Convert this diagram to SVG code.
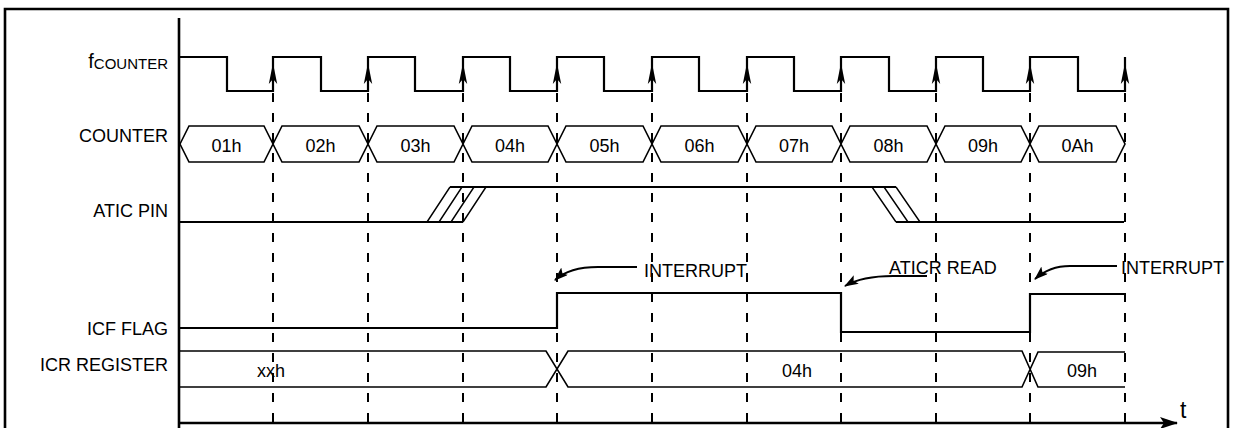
<svg xmlns="http://www.w3.org/2000/svg" xmlns:xlink="http://www.w3.org/1999/xlink" width="1235" height="428" viewBox="0 0 1235 428">
<style>
.t{font-family:"Liberation Sans",Arial,Helvetica,sans-serif;font-size:18px;fill:#000}
.r{text-anchor:end}
.m{text-anchor:middle}
.w{fill:none;stroke:#000;stroke-width:2.2;stroke-linejoin:miter}
.b{fill:none;stroke:#000;stroke-width:1.6}
.h{fill:none;stroke:#000;stroke-width:1.4}
.d{fill:none;stroke:#000;stroke-width:2;stroke-dasharray:9 11}
.f{fill:none;stroke:#000;stroke-width:2.6}
.a{fill:none;stroke:#000;stroke-width:1.8}
</style>
<defs>
<path id="up" d="M0,0 L4.2,21 L0,16 L-4.2,21 Z" fill="#000"/>
<marker id="ah" viewBox="0 0 14 10" refX="13" refY="5" markerWidth="14" markerHeight="10" markerUnits="userSpaceOnUse" orient="auto">
<path d="M0,0 L14,5 L0,10 L3,5 Z" fill="#000"/>
</marker>
<marker id="ta" viewBox="0 0 18 12" refX="17" refY="6" markerWidth="18" markerHeight="12" markerUnits="userSpaceOnUse" orient="auto">
<path d="M0,0 L18,6 L0,12 L4,6 Z" fill="#000"/>
</marker>
</defs>
<rect width="1235" height="428" fill="#fff"/>
<g id="frame">
<path class="f" d="M5,430 V9 H1228 V430"/>
<path class="f" d="M179,18 V430"/>
</g>
<g id="connectors">
<path class="d" d="M273,93 V428 M368,93 V428 M463,93 V428 M557,93 V428 M652,93 V428 M747,93 V428 M841,93 V428 M936,93 V428 M1030,93 V428 M1125,93 V428"/>
<path class="a" d="M637,267 H598 C580,267 566,270 555,280" marker-end="url(#ah)"/>
<path class="a" d="M927,276 H893 C872,276 857,279 845,286" marker-end="url(#ah)"/>
<path class="a" d="M1117,266 H1070 C1055,266 1045,270 1035,279" marker-end="url(#ah)"/>
<path class="f" d="M179,423 H1177" marker-end="url(#ta)"/>
</g>
<g id="fcounter">
<text class="t r" x="168" y="68"><tspan style="font-size:20px">f</tspan><tspan style="font-size:15px" dy="1">COUNTER</tspan></text>
<path class="w" d="M179,57 H227 V91 H273 V57 H321 V91 H368 V57 H415 V91 H463 V57 H510 V91 H557 V57 H604 V91 H652 V57 H699 V91 H747 V57 H794 V91 H841 V57 H889 V91 H936 V57 H983 V91 H1030 V57 H1078 V91 H1125 V57"/>
<use xlink:href="#up" x="273" y="63"/>
<use xlink:href="#up" x="368" y="63"/>
<use xlink:href="#up" x="463" y="63"/>
<use xlink:href="#up" x="557" y="63"/>
<use xlink:href="#up" x="652" y="63"/>
<use xlink:href="#up" x="747" y="63"/>
<use xlink:href="#up" x="841" y="63"/>
<use xlink:href="#up" x="936" y="63"/>
<use xlink:href="#up" x="1030" y="63"/>
<use xlink:href="#up" x="1125" y="63"/>
</g>
<g id="counter">
<text class="t r" x="168" y="142">COUNTER</text>
<path class="b" d="M180,144 L189,126 H264 L273,144 L264,162 H189 Z M273,144 L282,126 H359 L368,144 L359,162 H282 Z M368,144 L377,126 H454 L463,144 L454,162 H377 Z M463,144 L472,126 H548 L557,144 L548,162 H472 Z M557,144 L566,126 H643 L652,144 L643,162 H566 Z M652,144 L661,126 H738 L747,144 L738,162 H661 Z M747,144 L756,126 H832 L841,144 L832,162 H756 Z M841,144 L850,126 H927 L936,144 L927,162 H850 Z M936,144 L945,126 H1021 L1030,144 L1021,162 H945 Z M1030,144 L1039,126 H1116 L1125,144 L1116,162 H1039 Z"/>
<text class="t m" x="226.5" y="152">01h</text>
<text class="t m" x="320.5" y="152">02h</text>
<text class="t m" x="415.5" y="152">03h</text>
<text class="t m" x="510" y="152">04h</text>
<text class="t m" x="604.5" y="152">05h</text>
<text class="t m" x="699.5" y="152">06h</text>
<text class="t m" x="794" y="152">07h</text>
<text class="t m" x="888.5" y="152">08h</text>
<text class="t m" x="983" y="152">09h</text>
<text class="t m" x="1077.5" y="152">0Ah</text>
</g>
<g id="atic-pin">
<text class="t r" x="168" y="217">ATIC PIN</text>
<path class="w" d="M180,222 H463 M450,187 H896 M896,222 H1124"/>
<path class="h" d="M427,222 L450,187 M439,222 L462,187 M451,222 L474,187 M463,222 L486,187 M872,187 L896,222 M884,187 L908,222 M896,187 L920,222"/>
</g>
<g id="interrupt-1">
<text class="t" x="644" y="277">INTERRUPT</text>
</g>
<g id="aticr-read">
<text class="t" x="889" y="274">ATICR READ</text>
</g>
<g id="interrupt-2">
<text class="t" x="1121" y="274">INTERRUPT</text>
</g>
<g id="icf-flag">
<text class="t r" x="168" y="335">ICF FLAG</text>
<path class="w" d="M180,328 H557 V293 H841 V332 H1030 V294 H1125"/>
</g>
<g id="icr-register">
<text class="t r" x="168" y="371">ICR REGISTER</text>
<path class="b" d="M180,351 H546 L568,387 H1022 L1038,352 H1125 M180,387 H546 L568,351 H1022 L1038,387 H1125"/>
<text class="t m" x="271" y="377">xxh</text>
<text class="t m" x="797" y="377">04h</text>
<text class="t m" x="1082" y="377">09h</text>
</g>
<g id="t-label">
<text class="t" x="1180" y="418" style="font-size:23px">t</text>
</g>
</svg>
